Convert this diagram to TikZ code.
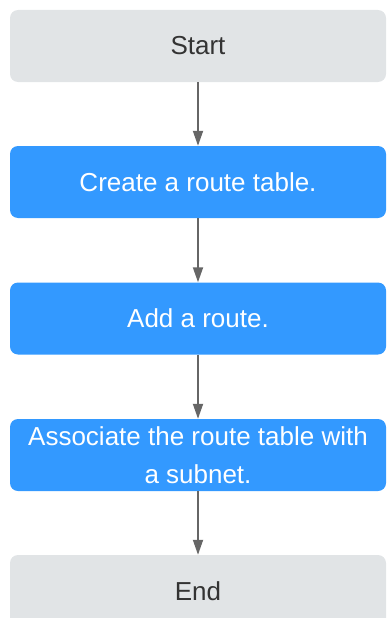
\documentclass[tikz,border=0pt]{standalone}
\usepackage{fontspec}
\setmainfont{Liberation Sans}
\usetikzlibrary{arrows.meta}
\definecolor{boxgray}{HTML}{E1E4E6}
\definecolor{boxblue}{HTML}{3399FF}
\definecolor{txtgray}{HTML}{333333}
\definecolor{arrgray}{HTML}{666666}
\tikzset{
  basebox/.style={rounded corners=8pt, minimum width=376pt, minimum height=72pt, inner sep=0pt, align=center,
    font=\fontsize{26pt}{38pt}\selectfont},
  graybox/.style={basebox, fill=boxgray, text=txtgray},
  bluebox/.style={basebox, fill=boxblue, text=white},
  flow/.style={draw=arrgray, line width=1.8pt, -{Triangle[width=10pt,length=15pt]}}
}
\begin{document}
\begin{tikzpicture}[x=1pt,y=-1pt]
\useasboundingbox (0,0) rectangle (387,618);
\clip (0,0) rectangle (387,618);
\node[graybox] (start) at (198,46) {Start};
\node[bluebox] (create) at (198,182) {Create a route table.};
\node[bluebox] (add) at (198,318.5) {Add a route.};
\node[bluebox] (assoc) at (198,455) {Associate the route table with\\a subnet.};
\node[graybox] (end) at (198,591) {End};
\draw[flow] (start) -- (create);
\draw[flow] (create) -- (add);
\draw[flow] (add) -- (assoc);
\draw[flow] (assoc) -- (end);
\end{tikzpicture}
\end{document}
